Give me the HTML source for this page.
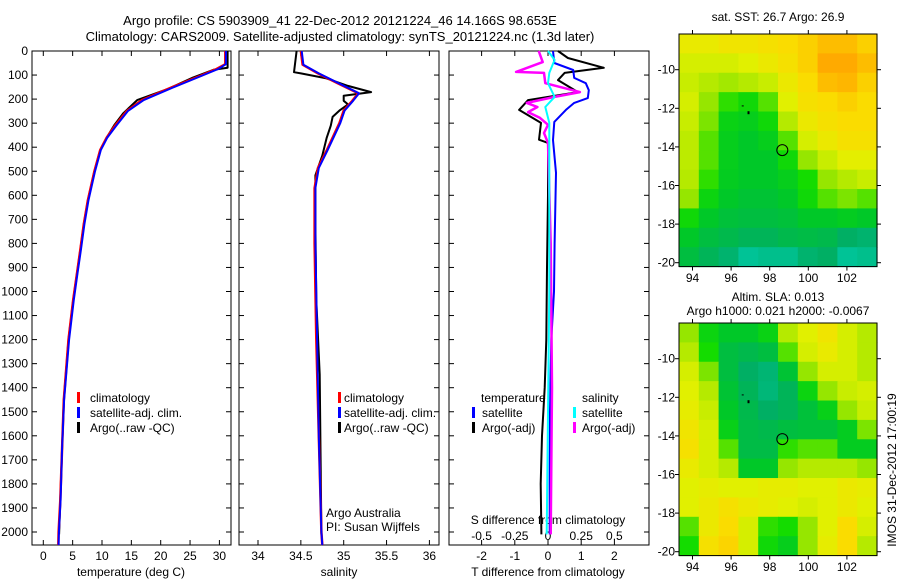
<!DOCTYPE html>
<html><head><meta charset="utf-8"><style>
html,body{margin:0;padding:0;background:#fff;}
svg{display:block;font-family:"Liberation Sans",sans-serif;}
text{font-size:12px;fill:#000;}
</style></head><body>
<svg id="s" width="900" height="580" viewBox="0 0 900 580">
<text x="340" y="25" text-anchor="middle" style="font-size:13px">Argo profile: CS 5903909_41 22-Dec-2012 20121224_46 14.166S 98.653E</text>
<text x="340" y="41" text-anchor="middle" style="font-size:13px">Climatology: CARS2009. Satellite-adjusted climatology: synTS_20121224.nc (1.3d later)</text>
<text x="778" y="21" text-anchor="middle">sat. SST: 26.7 Argo: 26.9</text>
<text x="778" y="301" text-anchor="middle">Altim. SLA: 0.013</text>
<text x="778" y="315" text-anchor="middle">Argo h1000: 0.021 h2000: -0.0067</text>
<text x="0" y="0" transform="translate(896,470) rotate(-90)" text-anchor="middle">IMOS 31-Dec-2012 17:00:19</text>
<g id="g"></g>
</svg>
<script>
// ---- data ----
const depthTicks=[0,100,200,300,400,500,600,700,800,900,1000,1100,1200,1300,1400,1500,1600,1700,1800,1900,2000];
const tempTicks=[0,5,10,15,20,25,30];
const salTicks=[34,34.5,35,35.5,36];
const tdiffTicks=[-2,-1,0,1,2];
const sdiffTicks=[-0.5,-0.25,0,0.25,0.5];
const climDepth=[0,55,75,104,154,204,250,308,360,412,500,620,720,827,930,1035,1200,1451,1650,1867,2000,2054];
const climTemp=[31,31,29.5,26.7,21.6,16.8,14.2,12.3,10.8,9.7,8.7,7.6,6.9,6.3,5.7,5.1,4.3,3.5,3.2,2.9,2.6,2.55];
const satTemp=[31.1,31.1,29.8,26.9,21.9,17.1,14.4,12.5,10.9,9.8,8.8,7.7,7.0,6.4,5.8,5.2,4.4,3.55,3.2,2.95,2.65,2.6];
const argoDepth=[0,70,78,110,160,204,260,308,360,412,500,620,720,827,930,1035,1200,1451,1650,1867,2010];
const argoTemp=[31.4,31.4,29,25.5,21,16,13.6,12.1,10.8,9.7,8.7,7.6,6.9,6.3,5.7,5.1,4.3,3.5,3.2,2.9,2.7];
const salClimDepth=[0,57,93,134,176,207,248,300,414,486,570,800,1200,1600,2000,2054];
const salClim=[34.5,34.52,34.7,34.93,35.17,35.1,35.0,34.95,34.8,34.7,34.66,34.66,34.68,34.71,34.74,34.75];
const salSat=[34.51,34.53,34.71,34.94,35.18,35.11,35.01,34.96,34.81,34.71,34.67,34.67,34.69,34.71,34.74,34.75];
const salArgoDepth=[0,88,93,114,145,171,186,207,222,248,274,310,362,435,517,725,1035,1345,2010];
const salArgo=[34.45,34.42,34.5,34.8,35.05,35.32,35.0,35.0,35.05,34.95,34.87,34.85,34.8,34.75,34.67,34.67,34.68,34.72,34.74];
const dDepth=[0,29,70,91,121,171,204,245,299,369,382,600,900,1200,1400,1600,1800,2010];
const dTargo=[0.3,0.6,1.68,0.5,0.3,0.9,-0.6,-0.87,-0.21,-0.27,0,0,-0.03,-0.05,-0.1,-0.18,-0.22,-0.2];
const dDepthSat=[0,50,79,112,134,163,196,216,245,295,370,507,800,1000,1200,1500,1800,2010];
const dTsat=[0.15,0.19,0.76,0.79,1.14,1.23,1.2,0.79,0.54,0.19,0.15,0.24,0.2,0.18,0.1,0.06,0.05,0.05];
const dSDepth=[0,46,87,91,134,171,191,216,233,254,278,307,341,382,800,1400,2010];
const dSargo=[-0.07,-0.04,-0.24,-0.03,-0.02,0.24,0.05,-0.16,-0.08,-0.15,-0.06,0,-0.03,0,0.02,0.03,0.02];
const dSDepthSat=[0,37,91,134,191,233,299,500,1000,1500,2010];
const dSsat=[0,0.05,0.01,0,0.05,-0.02,0.01,0.01,0.01,0.0,-0.01];
const lonTicks=[94,96,98,100,102];
const latTicks=[-10,-12,-14,-16,-18,-20];
const sstGrid=[
[0.65,0.65,0.68,0.68,0.7,0.72,0.75,0.8,0.8,0.75],
[0.6,0.6,0.6,0.62,0.66,0.7,0.75,0.85,0.85,0.8],
[0.58,0.55,0.52,0.55,0.58,0.66,0.72,0.8,0.82,0.75],
[0.6,0.5,0.42,0.38,0.45,0.62,0.7,0.72,0.75,0.72],
[0.58,0.48,0.35,0.33,0.38,0.55,0.66,0.7,0.72,0.72],
[0.56,0.45,0.33,0.3,0.33,0.45,0.6,0.66,0.7,0.7],
[0.56,0.45,0.33,0.3,0.3,0.38,0.5,0.58,0.63,0.63],
[0.55,0.42,0.32,0.3,0.3,0.33,0.4,0.5,0.55,0.58],
[0.5,0.36,0.3,0.28,0.28,0.3,0.38,0.45,0.48,0.45],
[0.38,0.3,0.27,0.26,0.26,0.27,0.3,0.3,0.32,0.3],
[0.3,0.26,0.24,0.22,0.22,0.24,0.25,0.24,0.2,0.18],
[0.26,0.22,0.18,0.1,0.12,0.12,0.18,0.2,0.1,0.12]];
const slaGrid=[
[0.5,0.36,0.3,0.3,0.35,0.55,0.62,0.68,0.6,0.55],
[0.55,0.4,0.26,0.24,0.26,0.45,0.6,0.65,0.6,0.55],
[0.6,0.48,0.26,0.2,0.17,0.28,0.5,0.6,0.6,0.55],
[0.62,0.55,0.28,0.22,0.16,0.22,0.36,0.5,0.58,0.6],
[0.64,0.58,0.3,0.24,0.2,0.22,0.27,0.34,0.5,0.58],
[0.68,0.6,0.34,0.25,0.24,0.26,0.27,0.27,0.32,0.48],
[0.7,0.6,0.45,0.25,0.25,0.42,0.45,0.45,0.32,0.32],
[0.65,0.6,0.55,0.3,0.3,0.5,0.55,0.55,0.55,0.5],
[0.62,0.64,0.62,0.62,0.64,0.64,0.62,0.62,0.66,0.64],
[0.62,0.66,0.7,0.66,0.64,0.62,0.6,0.62,0.66,0.62],
[0.45,0.66,0.72,0.6,0.42,0.4,0.5,0.62,0.72,0.6],
[0.4,0.7,0.74,0.6,0.38,0.33,0.5,0.64,0.72,0.55]];
const argoLon=98.653, argoLat=-14.166;

// ---- helpers ----
const NS="http://www.w3.org/2000/svg";
const G=document.getElementById('g');
function mk(t,a,p){const e=document.createElementNS(NS,t);for(const k in a)e.setAttribute(k,a[k]);(p||G).appendChild(e);return e;}
const yD=d=>51+d*0.2405;
const xT=t=>43.3+t*5.87;
const xS=s=>258+(s-34)*85.7;
const xdT=v=>548+v*33.2;
const xdS=v=>548+v*132.8;
const P1={l:32,r:231},P2={l:239,r:439},P3={l:449,r:649};
const TOP=51,BOT=545;
function line(xs,ds,fx,col,w,name){
  const pts=xs.map((v,i)=>fx(v).toFixed(1)+','+yD(ds[i]).toFixed(1)).join(' ');
  const e=mk('polyline',{points:pts,fill:'none',stroke:col,'stroke-width':w,'stroke-linejoin':'round'});
  
  
}
function frame(P,name){
  const r=mk('rect',{x:P.l,y:TOP,width:P.r-P.l,height:BOT-TOP,fill:'none',stroke:'#000','stroke-width':1});
  
  
  depthTicks.forEach(d=>{
    mk('line',{x1:P.l,x2:P.l+5,y1:yD(d),y2:yD(d),stroke:'#000'});
    mk('line',{x1:P.r-5,x2:P.r,y1:yD(d),y2:yD(d),stroke:'#000'});
  });
}
function xticks(ticks,fx,labY){
  ticks.forEach((t,i)=>{
    const x=fx(t);
    mk('line',{x1:x,x2:x,y1:BOT,y2:BOT-5,stroke:'#000'});
    mk('line',{x1:x,x2:x,y1:TOP,y2:TOP+5,stroke:'#000'});
    if(labY){const e=mk('text',{x:x,y:labY,'text-anchor':'middle'});e.textContent=String(t);
      
      }
  });
}
function txt(x,y,s,name,anchor){const e=mk('text',{x:x,y:y,'text-anchor':anchor||'start'});e.textContent=s;
  
  return e;}
function legBar(x,y,col,name){const e=mk('rect',{x:x,y:y-10,width:3,height:11,fill:col});
  
  }

// panel 1
frame(P1,'temperature-panel');
depthTicks.forEach(d=>{txt(28,yD(d)+4,String(d),'depth-tick-label','end');});
xticks(tempTicks,xT,560);
txt(131,576,'temperature (deg C)','temperature-axis-title','middle');
line(argoTemp,argoDepth,xT,'#000',2,'temp-argo-line');
line(climTemp,climDepth,xT,'#f00',2.5,'temp-climatology-line');
line(satTemp,climDepth,xT,'#00f',2,'temp-satellite-line');
legBar(77,402,'#f00','legend-climatology-swatch');txt(90,402,'climatology','legend-climatology');
legBar(77,417,'#00f','legend-satellite-swatch');txt(90,417,'satellite-adj. clim.','legend-satellite');
legBar(77,432,'#000','legend-argo-swatch');txt(90,432,'Argo(..raw -QC)','legend-argo');

// panel 2
frame(P2,'salinity-panel');
xticks(salTicks,xS,560);
txt(339,576,'salinity','salinity-axis-title','middle');
line(salArgo,salArgoDepth,xS,'#000',2,'sal-argo-line');
line(salClim,salClimDepth,xS,'#f00',2.5,'sal-climatology-line');
line(salSat,salClimDepth,xS,'#00f',2,'sal-satellite-line');
legBar(338,402,'#f00','legend2-climatology-swatch');txt(344,402,'climatology','legend2-climatology');
legBar(338,417,'#00f','legend2-satellite-swatch');txt(344,417,'satellite-adj. clim.','legend2-satellite');
legBar(338,432,'#000','legend2-argo-swatch');txt(344,432,'Argo(..raw -QC)','legend2-argo');
txt(326,517,'Argo Australia','credit-line-1');
txt(326,531,'PI: Susan Wijffels','credit-line-2');

// panel 3
frame(P3,'difference-panel');
xticks(tdiffTicks,xdT,560);
sdiffTicks.forEach(t=>{txt(xdS(t),540,String(t),'s-diff-tick-label','middle');});
txt(548,524,'S difference from climatology','s-diff-axis-title','middle');
txt(548,576,'T difference from climatology','t-diff-axis-title','middle');
line(dTargo,dDepth,xdT,'#000',2,'tdiff-argo-line');
line(dTsat,dDepthSat,xdT,'#00f',2,'tdiff-satellite-line');
line(dSargo,dSDepth,xdS,'#f0f',2.5,'sdiff-argo-line');
line(dSsat,dSDepthSat,xdS,'#0ff',2,'sdiff-satellite-line');
txt(481,402,'temperature','legend3-temperature-head');
legBar(472,417,'#00f','legend3-t-sat-swatch');txt(482,417,'satellite','legend3-t-satellite');
legBar(472,432,'#000','legend3-t-argo-swatch');txt(482,432,'Argo(-adj)','legend3-t-argo');
txt(582,402,'salinity','legend3-salinity-head');
legBar(573,417,'#0ff','legend3-s-sat-swatch');txt(582,417,'satellite','legend3-s-satellite');
legBar(573,432,'#f0f','legend3-s-argo-swatch');txt(582,432,'Argo(-adj)','legend3-s-argo');

// maps
const stops=[[0,[0,215,200]],[0.2,[0,175,100]],[0.3,[0,200,40]],[0.4,[20,220,0]],[0.5,[150,230,0]],[0.62,[225,240,0]],[0.72,[250,220,0]],[0.85,[255,170,0]]];
function cmap(v){for(let i=1;i<stops.length;i++){if(v<=stops[i][0]){const a=stops[i-1],b=stops[i],f=(v-a[0])/(b[0]-a[0]);
  return 'rgb('+a[1].map((c,k)=>Math.round(c+(b[1][k]-c)*f)).join(',')+')';}}return 'rgb(255,170,0)';}
function map(grid,top,name,labY){
  const L=679,R=877,lon0=93.3,lat0=-8.15,k=19.3,B=top+(-20.2-lat0)*-k;
  const xL=lon=>L+(lon-lon0)*k, yL=lat=>top+(lat0-lat)*k;
  const g=mk('g',{});
  
  
  const nr=grid.length,nc=grid[0].length,cw=(R-L)/nc,ch=(B-top)/nr;
  grid.forEach((row,r)=>row.forEach((v,c)=>{
    const e=mk('rect',{x:(L+c*cw).toFixed(2),y:(top+r*ch).toFixed(2),width:(cw+0.6).toFixed(2),height:(ch+0.6).toFixed(2),fill:cmap(v)},g);
    
    
  }));
  mk('rect',{x:L,y:top,width:R-L,height:B-top,fill:'none',stroke:'#000'},g);
  lonTicks.forEach(l=>{const x=xL(l);mk('line',{x1:x,x2:x,y1:top-4,y2:top,stroke:'#000'},g);mk('line',{x1:x,x2:x,y1:B,y2:B+4,stroke:'#000'},g);
    txt(x,labY,String(l),'lon-tick-label','middle');});
  latTicks.forEach(l=>{const y=yL(l);mk('line',{x1:L-4,x2:L,y1:y,y2:y,stroke:'#000'},g);mk('line',{x1:R,x2:R+4,y1:y,y2:y,stroke:'#000'},g);
    txt(L-4,y+4,String(l),'lat-tick-label','end');});
  const c=mk('circle',{cx:xL(argoLon),cy:yL(argoLat),r:5.5,fill:'none',stroke:'#000'},g);
  
  
  mk('rect',{x:xL(96.55),y:yL(-11.85),width:2,height:1,fill:'#000'},g);
  mk('rect',{x:xL(96.85),y:yL(-12.15),width:2,height:3,fill:'#000'},g);
}
map(sstGrid,34,'sst-map',282);
map(slaGrid,323,'sla-map',571);
</script>
</body></html>
